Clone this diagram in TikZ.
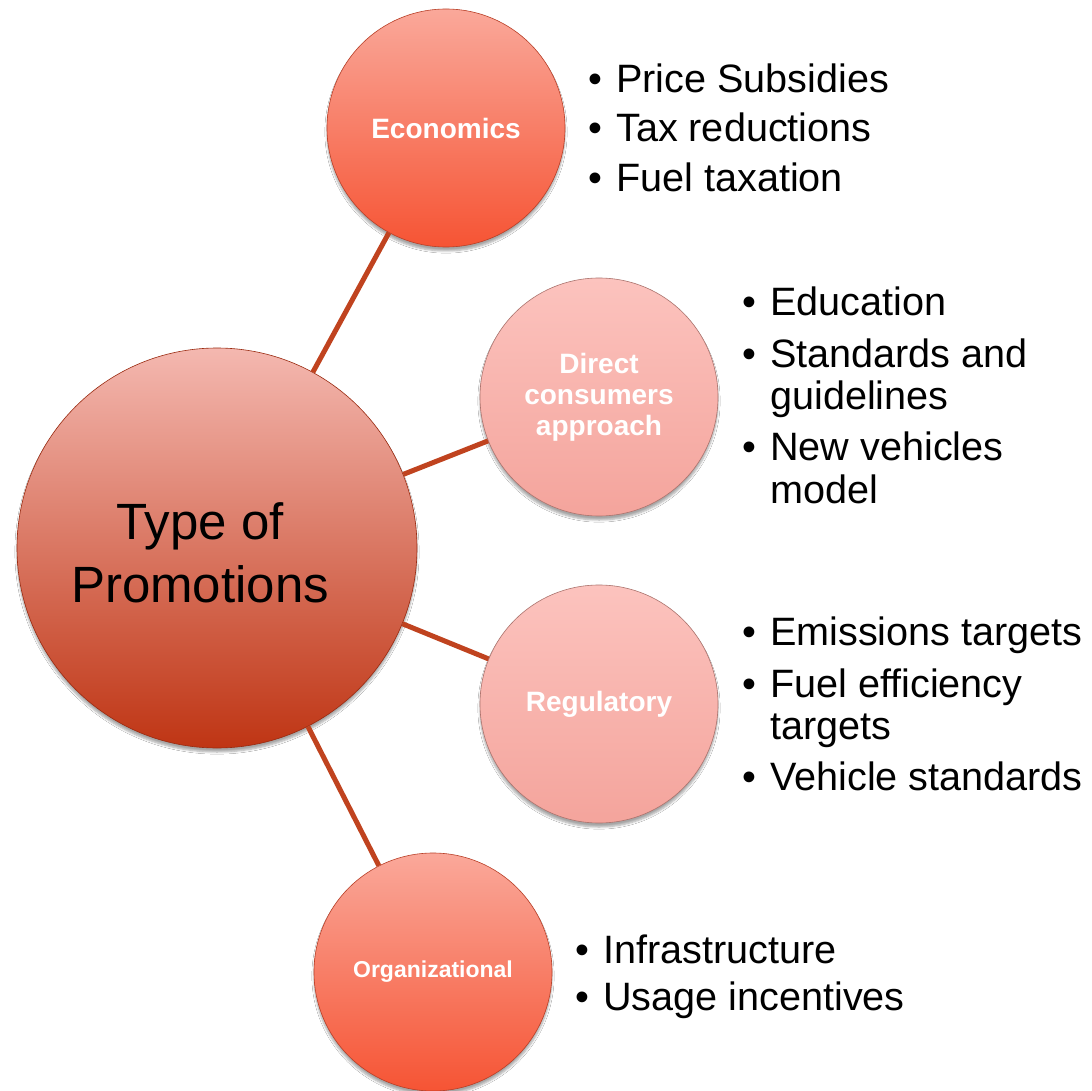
\documentclass[tikz,border=0pt]{standalone}
\usepackage{fontspec}
\setmainfont{Liberation Sans}
\usetikzlibrary{shadows.blur}
\definecolor{linkc}{HTML}{C0431F}
\definecolor{mainT}{HTML}{F4B8B0}
\definecolor{mainM}{HTML}{DF8372}
\definecolor{mainB}{HTML}{BF3514}
\definecolor{redT}{HTML}{FAA89A}
\definecolor{redB}{HTML}{F65434}
\definecolor{pinkT}{HTML}{FCC3BE}
\definecolor{pinkB}{HTML}{F4A49C}
\newcommand\itembul{\llap{\textbullet\hspace{14pt}}}
\tikzset{
  bigcirc/.style={circle, minimum size=400pt, inner sep=0pt, draw=mainB!80!black, line width=0.6pt,
    top color=mainT, middle color=mainM, bottom color=mainB,
    blur shadow={shadow blur steps=6, shadow xshift=0pt, shadow yshift=-4pt, shadow opacity=35}},
  bubble/.style={circle, minimum size=238pt, inner sep=0pt, line width=0.6pt, align=center, text=white,
    font=\bfseries\fontsize{28}{31}\selectfont,
    blur shadow={shadow blur steps=6, shadow xshift=0pt, shadow yshift=-4pt, shadow opacity=35}},
  redbub/.style={bubble, draw=redB!75!black, top color=redT, bottom color=redB},
  pinkbub/.style={bubble, draw=pinkB!70!black, top color=pinkT, bottom color=pinkB},
  link/.style={draw=linkc, line width=5pt},
  maintext/.style={anchor=base, inner sep=0pt, font=\fontsize{51}{60}\selectfont},
  listitem/.style={anchor=base west, inner sep=0pt, font=\fontsize{39.6}{45}\selectfont},
}
\begin{document}
\begin{tikzpicture}[x=1pt,y=-1pt]
\fill[white] (0,0) rectangle (1092,1091);
\useasboundingbox (0,0) rectangle (1092,1091);

\node[bigcirc] (main) at (217,548) {};
\node[redbub] (econ) at (446,128) {Economics};
\node[pinkbub] (direct) at (599,397) {Direct\\consumers\\approach};
\node[pinkbub] (reg) at (599,704) {Regulatory};
\node[redbub, font=\bfseries\fontsize{23}{27}\selectfont] (org) at (433,972) {Organizational};

\draw[link] (main) -- (econ);
\draw[link] (main) -- (direct);
\draw[link] (main) -- (reg);
\draw[link] (main) -- (org);

\node[maintext] (mt1) at (200,539) {Type of};
\node[maintext] (mt2) at (200,602) {Promotions};

\node[listitem] (e1) at (616,93) {\itembul Price Subsidies};
\node[listitem] (e2) at (616,142) {\itembul Tax reductions};
\node[listitem] (e3) at (616,192) {\itembul Fuel taxation};

\node[listitem] (d1) at (770,316) {\itembul Education};
\node[listitem] (d2) at (770,367) {\itembul Standards and};
\node[listitem] (d3) at (770,409) {guidelines};
\node[listitem] (d4) at (770,460) {\itembul New vehicles};
\node[listitem] (d5) at (770,503) {model};

\node[listitem] (r1) at (770,645) {\itembul Emissions targets};
\node[listitem] (r2) at (770,697) {\itembul Fuel efficiency};
\node[listitem] (r3) at (770,739) {targets};
\node[listitem] (r4) at (770,790) {\itembul Vehicle standards};

\node[listitem] (o1) at (603,963) {\itembul Infrastructure};
\node[listitem] (o2) at (603,1010) {\itembul Usage incentives};
\end{tikzpicture}
\end{document}
